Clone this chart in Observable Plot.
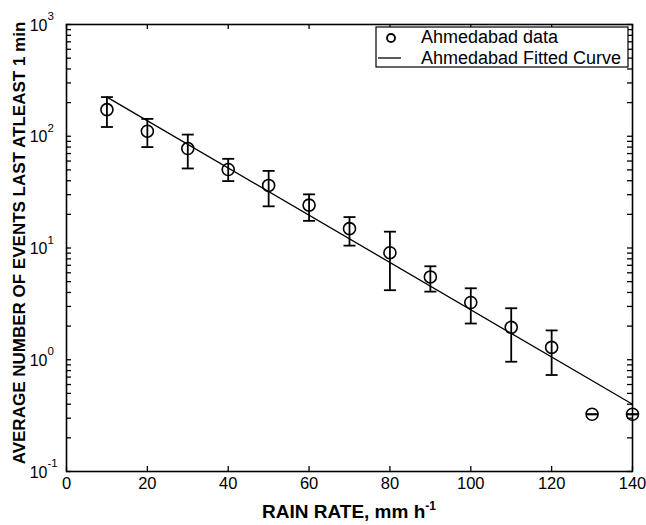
<!DOCTYPE html>
<html>
<head>
<meta charset="utf-8">
<script src="https://cdn.jsdelivr.net/npm/d3@7"></script>
<script src="https://cdn.jsdelivr.net/npm/@observablehq/plot@0.6"></script>
<style>
  html, body { margin: 0; padding: 0; background: #fff; }
  #chart { position: relative; width: 646px; height: 525px; }
  svg { font-family: "Liberation Sans", Arial, Helvetica, sans-serif; }
</style>
</head>
<body>
<div id="chart"></div>
<script>
// ---- data ----
const rainRate = [10, 20, 30, 40, 50, 60, 70, 80, 90, 100, 110, 120, 130, 140];
const meanEvents = [173, 111, 77.6, 50.4, 36.3, 24.2, 14.9, 9.08, 5.51, 3.25, 1.95, 1.29, 0.325, 0.325];
const upperEvents = [224, 143, 103.5, 62.8, 49, 30.2, 18.9, 14.0, 6.86, 4.36, 2.89, 1.83, 0.325, 0.325];
const lowerEvents = [121, 80, 51.5, 39.7, 23.6, 17.5, 10.5, 4.19, 4.07, 2.11, 0.96, 0.73, 0.325, 0.325];

const fitRate = [10, 140];
const fitEvents = [224, 0.40];

const xTickValues = [0, 20, 40, 60, 80, 100, 120, 140];
const yMajorTicks = [0.1, 1, 10, 100, 1000];
const yExponents = ["-1", "0", "1", "2", "3"];
const yMinorMultipliers = [2, 3, 4, 5, 6, 7, 8, 9];

const legendLabels = ["Ahmedabad data", "Ahmedabad Fitted Curve"];
const xTitle = "RAIN RATE, mm h";
const xTitleSup = "-1";
const yTitle = "AVERAGE NUMBER OF EVENTS LAST ATLEAST 1 min";

// ---- derived tables ----
const points = rainRate.map((r, i) => ({rate: r, mean: meanEvents[i], hi: upperEvents[i], lo: lowerEvents[i]}));
const fit = fitRate.map((r, i) => ({rate: r, value: fitEvents[i]}));
const yMinorTicks = yMajorTicks.slice(0, -1).flatMap(d => yMinorMultipliers.map(m => +(d * m).toPrecision(3)));
const yLabels = yMajorTicks.map((v, i) => ({v, e: yExponents[i]}));

const W = 646, H = 525;
const mL = 66, mR = 14, mT = 24, mB = 54;
const fw = W - mL - mR, fh = H - mT - mB;

const capSymbol = {
  draw(ctx) { ctx.moveTo(-6, 0); ctx.lineTo(6, 0); }
};

const plot = Plot.plot({
  width: W,
  height: H,
  marginLeft: mL, marginRight: mR, marginTop: mT, marginBottom: mB,
  style: {fontFamily: '"Liberation Sans", Arial, sans-serif', background: "white", color: "black"},
  x: {domain: [0, 140], axis: null},
  y: {type: "log", domain: [0.1, 1000], axis: null},
  marks: [
    // inward ticks: left / right (major and minor)
    Plot.tickY(yMajorTicks.concat(yMinorTicks), {y: d => d, insetRight: fw - 5, stroke: "black", strokeWidth: 1.3}),
    Plot.tickY(yMajorTicks.concat(yMinorTicks), {y: d => d, insetLeft: fw - 5, stroke: "black", strokeWidth: 1.3}),
    // inward ticks: bottom / top
    Plot.tickX(xTickValues, {x: d => d, insetTop: fh - 5, stroke: "black", strokeWidth: 1.3}),
    Plot.tickX(xTickValues, {x: d => d, insetBottom: fh - 5, stroke: "black", strokeWidth: 1.3}),
    // x tick labels
    Plot.text(xTickValues, {x: d => d, text: d => String(d), frameAnchor: "bottom", dy: 17, fontSize: 16.5, fill: "black", textAnchor: "middle"}),
    // y tick labels: "10" with superscript exponent
    Plot.text(yLabels, {y: "v", text: () => "10", frameAnchor: "left", dx: -19, dy: 1, textAnchor: "end", fontSize: 16, fill: "black"}),
    Plot.text(yLabels, {y: "v", text: "e", frameAnchor: "left", dx: -19, dy: -8, textAnchor: "start", fontSize: 11.5, fill: "black"}),
    // fitted curve
    Plot.line(fit, {x: "rate", y: "value", stroke: "black", strokeWidth: 1.3}),
    // error bars
    Plot.ruleX(points, {x: "rate", y1: "lo", y2: "hi", stroke: "black", strokeWidth: 1.8}),
    Plot.dot(points, {x: "rate", y: "hi", symbol: capSymbol, stroke: "black", strokeWidth: 1.8, fill: "none"}),
    Plot.dot(points, {x: "rate", y: "lo", symbol: capSymbol, stroke: "black", strokeWidth: 1.8, fill: "none"}),
    // data points
    Plot.dot(points, {x: "rate", y: "mean", r: 6, stroke: "black", strokeWidth: 1.6, fill: "none"}),
    Plot.frame({stroke: "black", strokeWidth: 1.6})
  ]
});

document.getElementById("chart").appendChild(plot);

// ---- titles and legend (layout only) ----
const svg = d3.select(plot);

const xt = svg.append("text")
  .attr("x", mL + fw / 2).attr("y", 518)
  .attr("text-anchor", "middle")
  .attr("font-size", 19).attr("font-weight", "bold").attr("fill", "black")
  .text(xTitle);
xt.append("tspan").attr("font-size", 12).attr("dy", -8).text(xTitleSup);

svg.append("text")
  .attr("transform", "translate(25,243) rotate(-90)")
  .attr("text-anchor", "middle")
  .attr("font-size", 17).attr("font-weight", "bold").attr("fill", "black")
  .text(yTitle);

const lg = svg.append("g").attr("text-anchor", "start");
lg.append("rect").attr("x", 376).attr("y", 27).attr("width", 252).attr("height", 40)
  .attr("fill", "white").attr("stroke", "black").attr("stroke-width", 1.2);
lg.append("circle").attr("cx", 391).attr("cy", 38).attr("r", 4)
  .attr("fill", "none").attr("stroke", "black").attr("stroke-width", 1.8);
lg.append("line").attr("x1", 378).attr("x2", 401).attr("y1", 58).attr("y2", 58)
  .attr("stroke", "black").attr("stroke-width", 1.3);
lg.append("text").attr("x", 421).attr("y", 43).attr("text-anchor", "start").attr("font-size", 18).attr("fill", "black").text(legendLabels[0]);
lg.append("text").attr("x", 421).attr("y", 64).attr("text-anchor", "start").attr("font-size", 18).attr("fill", "black").text(legendLabels[1]);
</script>
</body>
</html>
